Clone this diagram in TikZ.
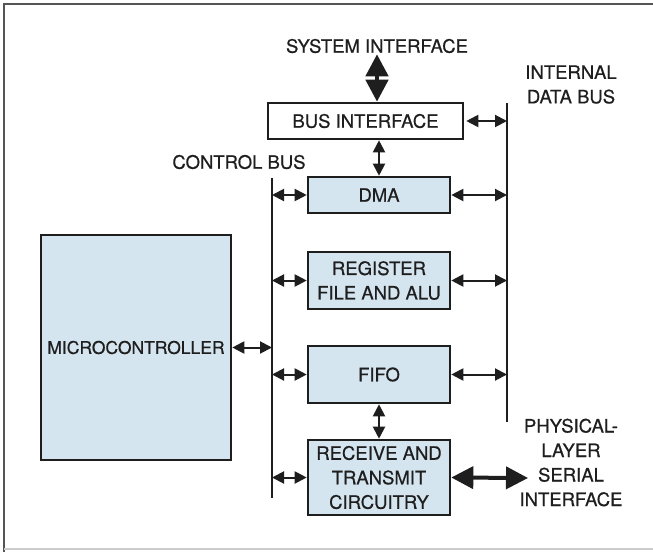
\documentclass[tikz,border=0pt]{standalone}
\usepackage{fontspec}
\setmainfont[FakeBold=0.5]{TeX Gyre Heros}
\usetikzlibrary{arrows.meta}
\definecolor{boxblue}{HTML}{D4E5EF}
\definecolor{ink}{HTML}{1E1E1E}
\definecolor{framegray}{HTML}{555555}
\begin{document}
\begin{tikzpicture}[x=1pt,y=-1pt,
  every node/.style={font=\fontsize{18.5}{24.5}\selectfont, text=ink},
  blk/.style={draw=ink, line width=2.6pt, fill=boxblue, inner sep=0pt, align=center},
  wblk/.style={blk, fill=white},
  lbl/.style={inner sep=0pt, align=center},
  busline/.style={draw=ink, line width=2pt},
  dbl/.style={draw=ink, line width=2pt, {Triangle[length=12pt,width=12pt]}-{Triangle[length=12pt,width=12pt]}},
  thick dbl/.style={draw=ink, line width=4.5pt, {Triangle[length=22pt,width=22pt]}-{Triangle[length=22pt,width=22pt]}}
]
\useasboundingbox (0,0) rectangle (653,552);
\fill[white] (0,0) rectangle (653,552);
% frame
\draw[framegray, line width=2pt] (4,552) -- (4,4) -- (653,4);
\draw[gray!40, line width=1.5pt] (4,549) -- (653,549);

% blocks
\node[wblk, minimum width=195, minimum height=36] (bi) at (365.5,121) {BUS INTERFACE};
\node[blk, minimum width=142, minimum height=36] (dma) at (379,195) {DMA};
\node[blk, minimum width=142, minimum height=57] (reg) at (379,280.5) {REGISTER\\FILE AND ALU};
\node[blk, minimum width=142, minimum height=57] (fifo) at (379,374.5) {FIFO};
\node[blk, minimum width=142, minimum height=75] (rx) at (379,477.5) {RECEIVE AND\\TRANSMIT\\CIRCUITRY};
\node[blk, minimum width=190, minimum height=225, text width=188, font=\fontsize{17.5}{24}\selectfont] (mc) at (136,347.5) {MICROCONTROLLER};

% labels
\node[lbl] (sys) at (377,46) {SYSTEM INTERFACE};
\node[lbl] (idb) at (571,84.5) {INTERNAL\\DATA BUS};
\node[lbl] (cb) at (239,162) {CONTROL BUS};
\node[lbl] (phy) at (571,462.5) {PHYSICAL-\\LAYER\\SERIAL\\INTERFACE};

% buses
\coordinate (cbtop) at (272,178);
\coordinate (cbbot) at (272,498);
\coordinate (dbtop) at (507,103);
\coordinate (dbbot) at (507,422);
\draw[busline] (cbtop) -- (cbbot);
\draw[busline] (dbtop) -- (dbbot);

% connectors
\draw[thick dbl] ([yshift=-1pt]sys.south) -- (sys.south |- bi.north);
\draw[dbl] ([xshift=2pt]bi.east) -- (bi.east -| dbtop);
\draw[dbl] (dma.north) -- (dma.north |- bi.south);
\draw[dbl] (fifo.south) -- (rx.north);
\draw[dbl] (mc.east) -- (mc.east -| cbtop);
\foreach \b in {dma,reg,fifo,rx}
  \draw[dbl] (\b.west -| cbtop) -- (\b.west);
\foreach \b in {dma,reg,fifo}
  \draw[dbl] (\b.east) -- (\b.east -| dbtop);
\coordinate (phyend) at (528,478);
\draw[thick dbl, line width=4pt] (rx.east) -- (phyend);
\end{tikzpicture}
\end{document}
